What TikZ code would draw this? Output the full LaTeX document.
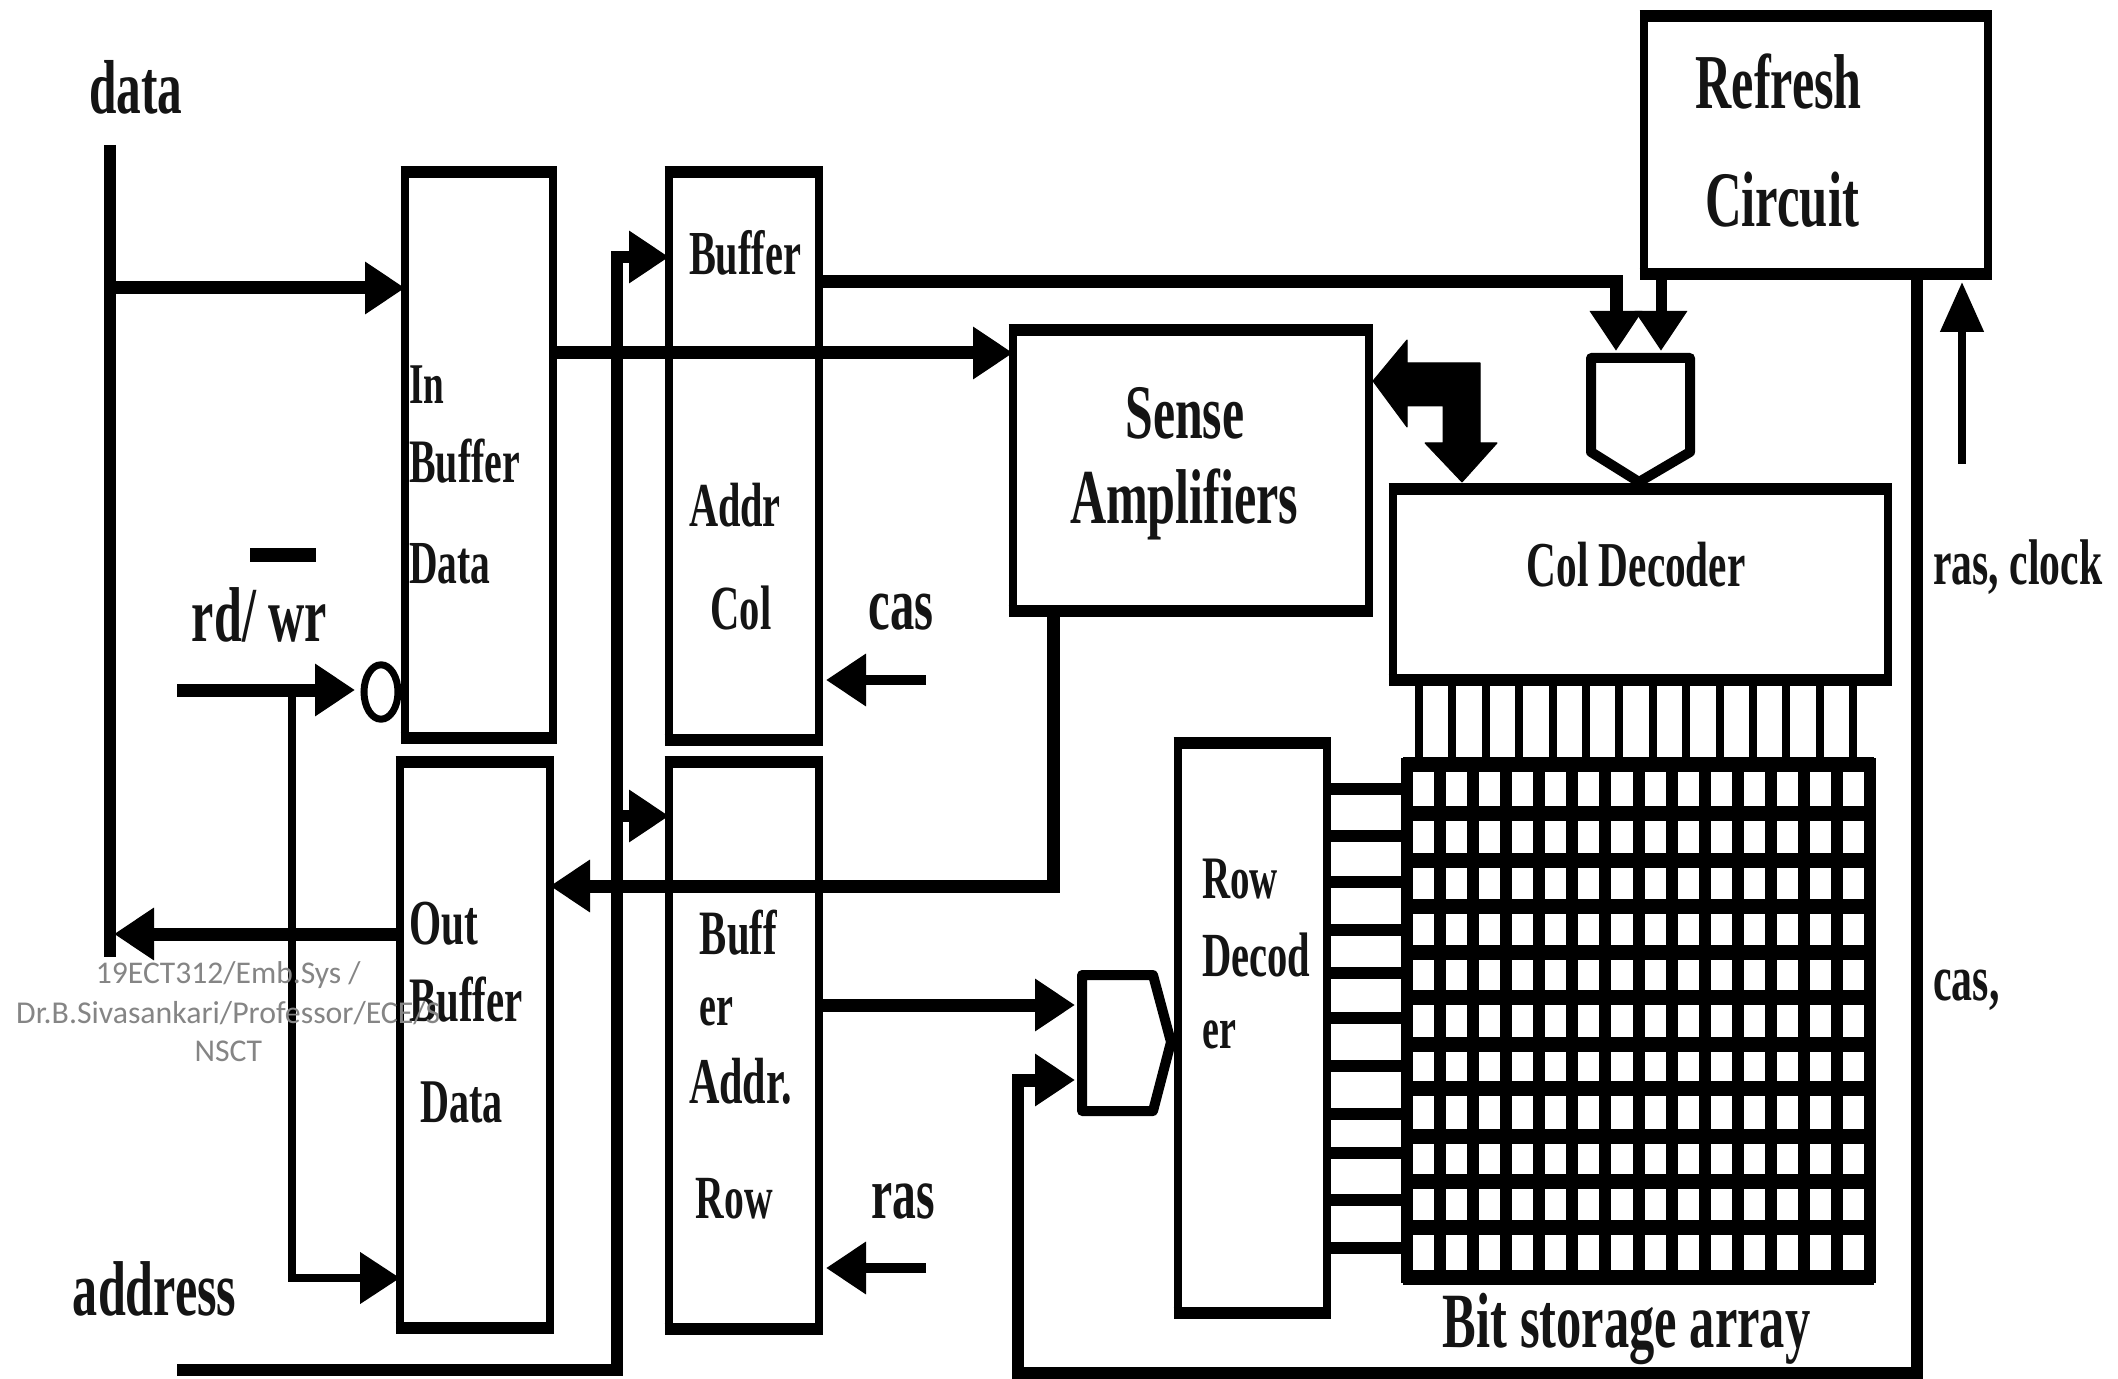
\documentclass[tikz,border=0pt]{standalone}
\usepackage{fontspec}
\setmainfont{Liberation Serif}
\newfontfamily\foot{Carlito}
\usetikzlibrary{arrows.meta,calc}
\newsavebox\tb
% fitted label: width in thumbnail px, vertical stretch, text
\newcommand\tl[3][1.55]{\sbox\tb{\fontsize{20}{20}\selectfont\bfseries #3}%
  \pgfmathsetmacro\xs{#2*0.6755/(\wd\tb)}\pgfmathsetmacro\ys{\xs*#1}%
  \scalebox{\xs}[\ys]{\usebox\tb}}
\newcommand\ft[2]{\sbox\tb{\fontsize{16}{16}\selectfont\foot #2}%
  \pgfmathsetmacro\xs{#1*0.6755/(\wd\tb)}%
  \scalebox{\xs}{\usebox\tb}}
\newcommand\bx[5]{\node[blk,minimum width={(#4-#2)*0.5pt},minimum height={(#5-#3)*0.5pt}] (#1) at ({(#2+#4)/2},{(#3+#5)/2}) {};
  \draw[hedge] (#1.north west) -- (#1.north east);
  \draw[hedge] (#1.south west) -- (#1.south east);}
\tikzset{
  blk/.style={draw=black,line width=4.4pt,inner sep=0pt,outer sep=0pt,rectangle},
  hedge/.style={draw=black,line width=6.4pt,shorten <=-2.2pt,shorten >=-2.2pt},
  lab/.style={inner sep=0pt,outer sep=0pt,text=black!92},
  wire/.style={draw=black,line width=6pt},
  hwire/.style={draw=black,line width=6.5pt},
  thin wire/.style={draw=black,line width=4pt},
  tipped/.style={-{Triangle[length=20pt,width=25pt]}},
  gatepath/.style={draw=black,line width=5pt,line join=round},
  gridv/.style={draw=black,line width=6pt},
  gridh/.style={draw=black,line width=7.5pt},
  fatbus/.style={fill=black,draw=black,line width=.5pt,line join=round},
  footnote/.style={inner sep=0pt,outer sep=0pt,text=black!48}
}
\begin{document}
\begin{tikzpicture}[x=0.5pt,y=-0.5pt]
\useasboundingbox[fill=white] (0,0) rectangle (2118,1379);
% blocks
\bx{inb}{405}{172}{553}{738}
\bx{outb}{400}{762}{550}{1328}
\bx{cola}{669}{172}{819}{740}
\bx{rowa}{669}{762}{819}{1329}
\bx{sense}{1013}{330}{1369}{611}
\bx{refr}{1644}{16}{1988}{274}
\bx{cdec}{1393}{489}{1888}{680}
\bx{rdec}{1178}{743}{1327}{1313}
% bit array
\foreach \i in {0,...,14} \draw[gridv] ({1407+33.07*\i},758) -- ({1407+33.07*\i},1283);
\foreach \y in {764,813,860,906,952,997,1044,1088,1136,1181,1227,1277} \draw[gridh] (1403,\y) -- (1874,\y);
\foreach \i in {0,...,13} \draw[thin wire] ({1419+33.4*\i},680) -- ({1419+33.4*\i},760);
\foreach \y in {789,836,882,930,973,1018,1066,1114,1153,1200,1248} \draw[gridh,line width=6pt] (1327,\y) -- (1405,\y);
% gates
\draw[gatepath] (1591,358) -- (1690,358) -- (1690,452) -- (1639,482) -- (1591,452) -- cycle;
\draw[gatepath] (1082,975) -- (1153,975) -- (1171,1042) -- (1153,1111) -- (1082,1111) -- cycle;
\coordinate (cmuxA) at (1616,351);
\coordinate (cmuxB) at (1661,351);
\coordinate (rmuxA) at (1075,1005);
\coordinate (rmuxB) at (1075,1080);
% data bus
\coordinate (dTop) at (110,145);
\coordinate (dBot) at (110,957);
\coordinate (dIn) at (110,288);
\coordinate (dOut) at (114,934);
\draw[wire] (dTop) -- (dBot);
\draw[hwire,tipped] (dIn) -- (dIn -| inb.west);
\draw[hwire,tipped] (dOut -| outb.west) -- (dOut);
% address bus
\coordinate (aStart) at (177,1370);
\coordinate (aCorner) at (617,1370);
\coordinate (aTop) at (617,257);
\coordinate (aRow) at (617,816);
\draw[wire,tipped] (aStart) -- (aCorner) -- (aTop) -- (aTop -| cola.west);
\draw[wire,tipped] (aRow) -- (aRow -| rowa.west);
% rd/wr
\coordinate (rwStart) at (177,690);
\coordinate (rwTip) at (355,690);
\coordinate (rwBranch) at (292,690);
\coordinate (rwLow) at (292,1278);
\node[draw=black,line width=3.5pt,circle,inner sep=0pt,minimum width=17pt,yscale=1.6] (bubble) at (381,692) {};
\draw[hwire,tipped] (rwStart) -- (rwTip);
\draw[thin wire,tipped] (rwBranch) -- (rwLow) -- (rwLow -| outb.west);
\coordinate (barL) at (250,555);
\coordinate (barR) at (316,555);
\draw[draw=black,line width=7pt] (barL) -- (barR);
% internal connections
\coordinate (inS) at (553,353);
\draw[hwire,tipped] (inS) -- (inS -| sense.west);
\coordinate (bufH) at (819,282);
\coordinate (bufC) at (1616,282);
\draw[hwire,tipped] (bufH) -- (bufC) -- (cmuxA);
\draw[wire,line width=5.5pt,tipped] (cmuxB |- refr.south) -- (cmuxB);
\coordinate (senD) at (1053,611);
\coordinate (senC) at (1053,886);
\draw[hwire,tipped] (senD) -- (senC) -- (senC -| outb.east);
\coordinate (rowH) at (819,1005);
\draw[hwire,tipped] (rowH) -- (rmuxA);
% bottom feedback
\coordinate (casTop) at (1917,274);
\coordinate (casBot) at (1917,1373);
\coordinate (casL) at (1018,1373);
\coordinate (casU) at (1018,1080);
\draw[wire,line join=miter] (casTop) -- (casBot) -- (casL) -- (casU) -- ++(25,0);
\draw[hwire,tipped] (casU) -- (rmuxB);
% refresh clock arrow
\coordinate (ckB) at (1962,464);
\coordinate (ckT) at (1962,282);
\draw[thin wire,-{Triangle[length=25pt,width=21pt]}] (ckB) -- (ckT);
% fat bus
\draw[fatbus] (1373,381) -- (1407,340) -- (1407,363) -- (1480,363) -- (1480,443) -- (1497,443) -- (1462,482) -- (1425,443) -- (1443,443) -- (1443,406) -- (1407,406) -- (1407,427) -- cycle;
% cas / ras arrows
\coordinate (casS) at (926,680);
\coordinate (casE) at (826,680);
\draw[thin wire,line width=5pt,tipped] (casS) -- (casE);
\coordinate (rasS) at (926,1268);
\coordinate (rasE) at (826,1268);
\draw[thin wire,line width=5pt,tipped] (rasS) -- (rasE);
% labels, in thumbnail coordinates
\begin{scope}[x=0.6755pt,y=-0.6755pt]
\node[lab] (t1) at (100.5,65) {\tl{69}{data}};
\node[lab] (t2) at (316,285) {\tl{26}{In}};
\node[lab] (t3) at (344,341) {\tl{82}{Buffer}};
\node[lab] (t4) at (333,417) {\tl{60}{Data}};
\node[lab] (t5) at (551.5,187) {\tl{83}{Buffer}};
\node[lab] (t6) at (544,374) {\tl{68}{Addr}};
\node[lab] (t7) at (548.5,450) {\tl{45}{Col}};
\node[lab] (t8) at (667,453) {\tl{48}{cas}};
\node[lab] (t9) at (668.5,889) {\tl{47}{ras}};
\node[lab] (t10) at (192,455) {\tl{100}{rd/ wr}};
\node[lab] (t11) at (877,306) {\tl{88}{Sense}};
\node[lab] (t12) at (876.5,373) {\tl{169}{Amplifiers}};
\node[lab] (t13) at (1316.5,60) {\tl{123}{Refresh}};
\node[lab] (t14) at (1319,148) {\tl{114}{Circuit}};
\node[lab] (t15) at (1211,418) {\tl{162}{Col Decoder}};
\node[lab] (t16) at (1493.5,420) {\tl{125}{ras, clock}};
\node[lab] (t17) at (1455.5,733) {\tl{49}{cas,}};
\node[lab] (t18) at (918,651) {\tl{56}{Row}};
\node[lab] (t19) at (930,707) {\tl{80}{Decod}};
\node[lab] (t20) at (902.5,766) {\tl{25}{er}};
\node[lab] (t21) at (1204,984) {\tl{272}{Bit storage array}};
\node[lab] (t22) at (328.5,684) {\tl{51}{Out}};
\node[lab] (t23) at (345,740) {\tl{84}{Buffer}};
\node[lab] (t24) at (341.5,816) {\tl{61}{Data}};
\node[lab] (t25) at (546.5,690) {\tl{57}{Buff}};
\node[lab] (t26) at (530.5,749) {\tl{25}{er}};
\node[lab] (t27) at (548,800) {\tl{76}{Addr.}};
\node[lab] (t28) at (543.5,887) {\tl{57}{Row}};
\node[lab] (t29) at (114.5,954) {\tl{121}{address}};
\node[footnote] (f1) at (169,722) {\ft{196}{19ECT312/Emb.Sys /}};
\node[footnote] (f2) at (169,750) {\ft{314}{Dr.B.Sivasankari/Professor/ECE/S}};
\node[footnote] (f3) at (169,778) {\ft{50}{NSCT}};
\end{scope}
\end{tikzpicture}
\end{document}
